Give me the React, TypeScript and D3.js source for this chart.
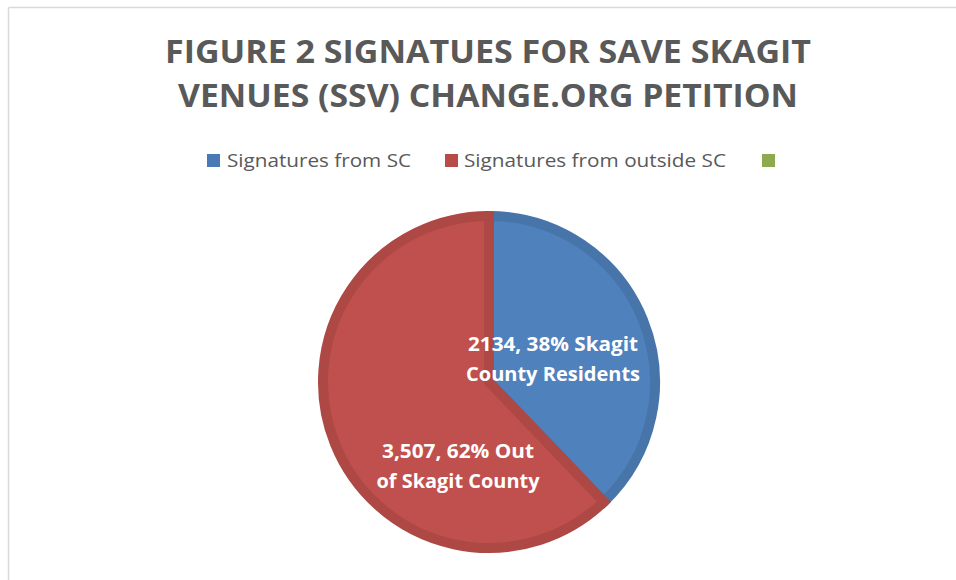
import React from "react";
import * as d3 from "d3";

const categories = ["Signatures from SC", "Signatures from outside SC", ""];
const values = [2134, 3507, 0];
const colors = ["#4F81BD", "#C0504D", "#9BBB59"];
const strokeColors = ["#4775AA", "#AD4845", "#8BA850"];
const legendColors = ["#4A7AB5", "#B84B47", "#8DAA4E"];
const labelLines = [
  ["2134, 38% Skagit", "County Residents"],
  ["3,507, 62% Out", "of Skagit County"],
];
const titleLines = ["FIGURE 2 SIGNATUES FOR SAVE SKAGIT", "VENUES (SSV) CHANGE.ORG PETITION"];

const W = 956;
const H = 580;

export default function App() {
  const cx = 489;
  const cy = 382;
  const r = 166;
  const data = categories.map((c, i) => ({ c, v: values[i], i }));
  const pie = d3
    .pie<any>()
    .sort(null)
    .value((d: any) => d.v)
    .startAngle(0)
    .endAngle(2 * Math.PI);
  const arcs = pie(data).filter((a) => a.data.v > 0);
  const arc = d3.arc<any>().innerRadius(0).outerRadius(r);

  const labelArc = d3.arc<any>().innerRadius(0).outerRadius(r);
  const labelOffsets = [
    { dx: -13, dy: 15, lens: [170, 174] },
    { dx: 46, dy: 60, lens: [152, 163] },
  ];

  const legendItems = [
    { x: 207, tx: 227, len: 184 },
    { x: 445, tx: 464, len: 262 },
    { x: 762, tx: 782, len: 0 },
  ];

  return (
    <svg
      width={W}
      height={H}
      style={{ position: "absolute", left: 0, top: 0, background: "#fff" }}
      fontFamily="'Open Sans', sans-serif"
    >
      <rect x={0} y={0} width={W} height={H} fill="#fff" />
      <line x1={8.5} y1={7.5} x2={W} y2={7.5} stroke="#D9D9D9" strokeWidth={1.5} />
      <line x1={8.5} y1={7.5} x2={8.5} y2={H} stroke="#D9D9D9" strokeWidth={1.5} />

      {titleLines.map((t, i) => (
        <text
          key={i}
          x={488}
          y={63 + i * 44}
          textAnchor="middle"
          fontSize={32}
          fontWeight="bold"
          fill="#595959"
          textLength={i === 0 ? 646 : 620}
          lengthAdjust="spacingAndGlyphs"
        >
          {t}
        </text>
      ))}

      {legendItems.map((l, i) => (
        <g key={i}>
          <rect x={l.x} y={154} width={13} height={13} fill={legendColors[i]} />
          {categories[i] && (
            <text
              x={l.tx}
              y={167}
              fontSize={18}
              fill="#595959"
              textLength={l.len}
              lengthAdjust="spacingAndGlyphs"
            >
              {categories[i]}
            </text>
          )}
        </g>
      ))}

      <g transform={`translate(${cx},${cy})`}>
        {arcs.map((a) => (
          <path
            key={a.data.i}
            d={arc(a) || ""}
            fill={colors[a.data.i]}
            stroke={strokeColors[a.data.i]}
            strokeWidth={10}
            strokeLinejoin="miter"
          />
        ))}
        {arcs.map((a) => {
          const [x, y] = labelArc.centroid(a);
          const o = labelOffsets[a.data.i];
          return (
            <text
              key={"l" + a.data.i}
              textAnchor="middle"
              fontSize={20}
              fontWeight="bold"
              fill="#fff"
            >
              {labelLines[a.data.i].map((ln, k) => (
                <tspan
                  key={k}
                  x={x + o.dx}
                  y={y + o.dy + k * 30 - 15}
                  textLength={o.lens[k]}
                  lengthAdjust="spacingAndGlyphs"
                >
                  {ln}
                </tspan>
              ))}
            </text>
          );
        })}
      </g>
    </svg>
  );
}
